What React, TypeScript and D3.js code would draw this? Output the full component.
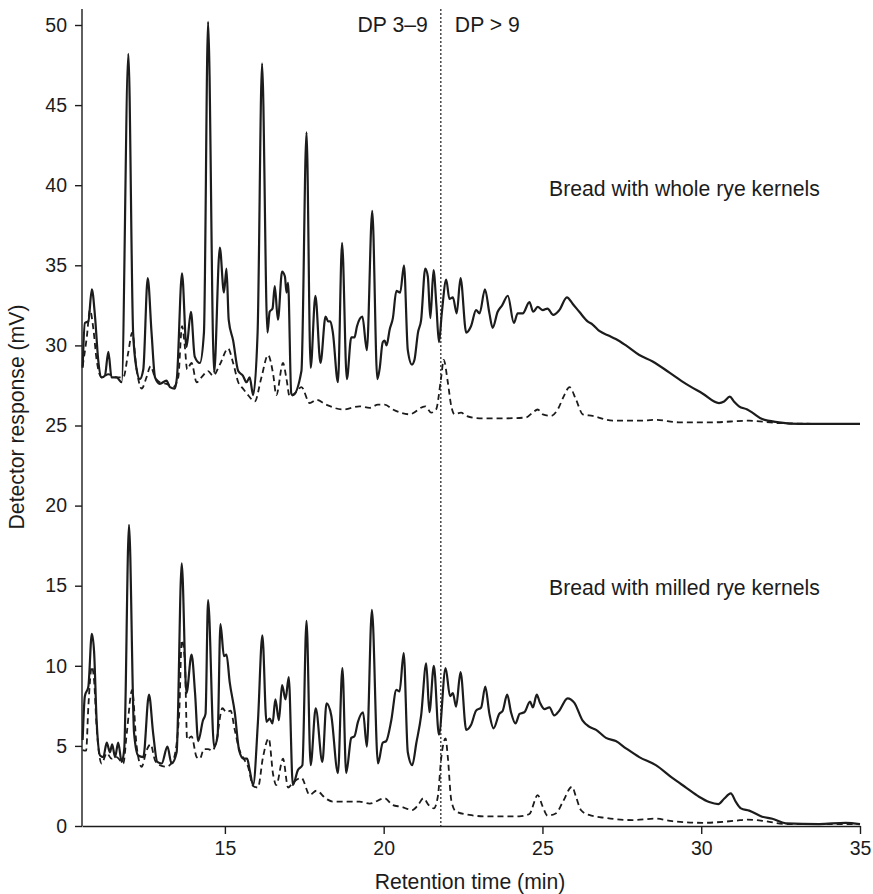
import React, { useRef, useEffect } from 'react';
import * as d3 from 'd3';

// retention time (min), detector response (mV)
const wholeSolid: [number, number][] = [
  [10.52, 28.6], [10.59, 31.4], [10.70, 31.5], [10.81, 33.5], [10.91, 31.8], [11.01, 29.1], [11.12, 28.0],
  [11.22, 28.1], [11.33, 29.6], [11.43, 28.0], [11.59, 28.0], [11.75, 27.7], [11.96, 48.2], [12.11, 30.8],
  [12.22, 28.5], [12.32, 27.9], [12.43, 28.5], [12.57, 34.2], [12.69, 30.8], [12.80, 28.0], [12.95, 27.6],
  [13.16, 27.8], [13.27, 27.4], [13.42, 27.3], [13.49, 28.0], [13.65, 34.5], [13.79, 29.9], [13.93, 32.1],
  [14.05, 29.3], [14.21, 28.9], [14.34, 30.8], [14.47, 50.2], [14.66, 28.3], [14.84, 36.1], [14.97, 33.3],
  [15.05, 34.8], [15.12, 31.6], [15.26, 30.3], [15.42, 28.4], [15.57, 28.1], [15.68, 27.7], [15.78, 28.0],
  [15.89, 26.9], [16.03, 30.8], [16.17, 47.6], [16.34, 30.8], [16.41, 32.1], [16.50, 32.3], [16.57, 33.7],
  [16.67, 31.6], [16.80, 34.6], [16.89, 34.3], [16.94, 33.3], [16.99, 33.9], [17.09, 27.0], [17.14, 26.9],
  [17.41, 28.4], [17.57, 43.3], [17.70, 28.6], [17.85, 33.1], [18.01, 28.9], [18.17, 31.8], [18.25, 31.5],
  [18.32, 31.5], [18.40, 30.8], [18.56, 27.7], [18.69, 36.4], [18.84, 27.9], [18.98, 30.5], [19.08, 30.5],
  [19.16, 31.2], [19.33, 31.8], [19.47, 29.7], [19.64, 38.4], [19.80, 27.9], [19.87, 28.5], [19.97, 30.2],
  [20.03, 30.3], [20.09, 30.0], [20.19, 31.0], [20.29, 31.7], [20.40, 33.4], [20.52, 33.3], [20.64, 35.0],
  [20.76, 29.7], [20.89, 28.8], [20.97, 29.1], [21.08, 30.8], [21.18, 31.6], [21.31, 34.8], [21.39, 34.3],
  [21.47, 31.7], [21.57, 34.7], [21.66, 32.5], [21.74, 30.2], [21.83, 32.0], [21.97, 34.1], [22.07, 32.9],
  [22.18, 33.0], [22.30, 32.0], [22.42, 34.2], [22.60, 30.8], [22.75, 31.2], [22.91, 32.2], [23.02, 32.0],
  [23.19, 33.5], [23.33, 32.0], [23.43, 31.1], [23.59, 32.1], [23.73, 32.5], [23.91, 33.1], [24.10, 31.4],
  [24.22, 32.0], [24.38, 32.0], [24.59, 32.7], [24.71, 32.1], [24.85, 32.4], [25.01, 32.2], [25.16, 32.3],
  [25.34, 31.9], [25.53, 32.2], [25.77, 33.0], [25.95, 32.6], [26.16, 32.1], [26.42, 31.5], [26.58, 31.3],
  [26.79, 30.9], [27.10, 30.6], [27.31, 30.4], [27.63, 30.0], [28.05, 29.4], [28.47, 29.0], [29.0, 28.3],
  [29.52, 27.6], [30.04, 27.0], [30.56, 26.4], [30.72, 26.5], [30.90, 26.8], [31.03, 26.5], [31.19, 26.2],
  [31.45, 26.0], [31.61, 25.8], [31.92, 25.4], [32.45, 25.2], [33.08, 25.1], [34.02, 25.1], [35.0, 25.1],
];

const wholeDashed: [number, number][] = [
  [10.52, 28.7], [10.65, 30.5], [10.75, 32.2], [10.86, 31.0], [10.96, 29.1], [11.12, 28.0], [11.33, 28.2],
  [11.59, 28.0], [11.80, 28.0], [11.96, 29.6], [12.08, 30.8], [12.22, 28.5], [12.38, 27.3], [12.53, 28.0],
  [12.66, 28.7], [12.80, 28.0], [12.95, 27.7], [13.16, 27.6], [13.37, 27.4], [13.53, 28.0], [13.65, 31.2],
  [13.74, 29.9], [13.81, 28.5], [13.95, 28.9], [14.11, 27.7], [14.26, 28.0], [14.47, 28.4], [14.63, 28.1],
  [14.84, 28.8], [15.10, 29.8], [15.26, 28.9], [15.42, 27.7], [15.57, 27.3], [15.73, 26.9], [15.94, 26.5],
  [16.15, 28.0], [16.36, 29.4], [16.52, 28.2], [16.62, 26.9], [16.83, 28.9], [16.94, 27.9], [17.04, 26.8],
  [17.25, 27.1], [17.41, 27.4], [17.67, 26.4], [17.88, 26.6], [18.19, 26.3], [18.72, 26.0], [19.24, 26.2],
  [19.56, 26.1], [19.82, 26.3], [20.03, 26.3], [20.29, 26.0], [20.81, 25.7], [21.31, 26.2], [21.50, 25.8],
  [21.65, 26.0], [21.81, 28.0], [21.89, 29.1], [22.02, 27.7], [22.13, 26.2], [22.23, 25.7], [22.44, 25.8],
  [22.60, 25.6], [23.02, 25.45], [23.86, 25.45], [24.48, 25.5], [24.69, 25.8], [24.85, 26.0], [25.01, 25.7],
  [25.27, 25.6], [25.48, 26.0], [25.69, 26.9], [25.85, 27.4], [26.06, 26.6], [26.27, 25.7], [26.58, 25.6],
  [27.21, 25.3], [28.05, 25.3], [28.57, 25.35], [29.30, 25.2], [30.35, 25.2], [31.51, 25.3], [32.45, 25.15],
  [34.02, 25.1], [35.0, 25.1],
];

const milledSolid: [number, number][] = [
  [10.52, 5.37], [10.59, 8.1], [10.70, 8.7], [10.81, 12.0], [10.88, 10.9], [10.96, 6.6], [11.07, 4.4],
  [11.17, 4.3], [11.28, 5.2], [11.38, 4.6], [11.45, 5.1], [11.54, 4.3], [11.64, 5.2], [11.75, 4.0],
  [11.83, 4.8], [11.98, 18.8], [12.14, 5.8], [12.27, 4.4], [12.43, 4.3], [12.61, 8.2], [12.74, 5.8],
  [12.87, 4.0], [13.01, 3.9], [13.19, 4.95], [13.32, 3.9], [13.48, 4.6], [13.64, 16.4], [13.79, 8.3],
  [13.95, 10.7], [14.06, 8.3], [14.16, 5.3], [14.31, 6.6], [14.39, 7.0], [14.47, 14.1], [14.66, 4.95],
  [14.77, 5.6], [14.86, 12.6], [14.97, 10.6], [15.05, 10.7], [15.15, 9.0], [15.31, 7.1], [15.45, 4.7],
  [15.59, 4.2], [15.70, 4.2], [15.78, 3.5], [15.89, 2.56], [16.04, 6.5], [16.18, 11.9], [16.31, 6.5],
  [16.41, 6.7], [16.50, 6.4], [16.59, 7.9], [16.70, 6.6], [16.80, 8.8], [16.91, 7.9], [17.01, 9.3],
  [17.14, 2.56], [17.30, 3.5], [17.44, 3.8], [17.57, 12.8], [17.70, 3.8], [17.86, 7.35], [18.07, 4.0],
  [18.20, 7.65], [18.35, 6.9], [18.56, 3.3], [18.70, 9.85], [18.82, 3.3], [18.98, 5.5], [19.08, 5.6],
  [19.19, 6.5], [19.35, 7.1], [19.47, 4.95], [19.63, 13.5], [19.82, 3.9], [19.97, 5.2], [20.08, 5.3],
  [20.24, 6.6], [20.40, 8.5], [20.50, 8.4], [20.63, 10.8], [20.76, 4.6], [20.90, 3.8], [21.03, 5.2],
  [21.18, 6.9], [21.34, 10.15], [21.44, 7.1], [21.58, 10.0], [21.74, 5.7], [21.95, 9.85], [22.09, 8.1],
  [22.18, 8.3], [22.28, 7.45], [22.42, 9.6], [22.60, 6.0], [22.75, 6.3], [22.91, 7.2], [23.07, 7.4],
  [23.20, 8.7], [23.33, 7.0], [23.46, 6.1], [23.64, 7.0], [23.75, 7.2], [23.89, 8.2], [24.01, 7.1],
  [24.15, 6.4], [24.28, 7.0], [24.43, 7.1], [24.61, 7.76], [24.70, 7.4], [24.82, 8.2], [24.92, 7.7],
  [25.06, 7.3], [25.22, 7.4], [25.37, 6.9], [25.53, 7.2], [25.79, 7.97], [26.0, 7.7], [26.26, 6.6],
  [26.47, 6.2], [26.69, 6.0], [27.0, 5.5], [27.31, 5.3], [27.63, 4.85], [28.05, 4.3], [28.57, 3.8],
  [29.09, 3.0], [29.52, 2.4], [29.93, 1.83], [30.25, 1.5], [30.54, 1.37], [30.72, 1.7], [30.93, 2.04],
  [31.09, 1.5], [31.25, 1.1], [31.51, 0.96], [31.92, 0.58], [32.24, 0.45], [32.66, 0.17], [33.71, 0.12],
  [34.55, 0.2], [35.0, 0.12],
];

const milledDashed: [number, number][] = [
  [10.52, 4.74], [10.63, 4.7], [10.70, 7.45], [10.81, 9.95], [10.88, 9.1], [10.96, 6.2], [11.12, 3.9],
  [11.28, 4.55], [11.43, 4.2], [11.59, 4.3], [11.80, 3.9], [11.91, 5.8], [12.08, 8.5], [12.22, 5.0],
  [12.38, 3.7], [12.53, 4.7], [12.66, 5.1], [12.80, 4.1], [12.95, 3.8], [13.16, 3.7], [13.37, 4.1],
  [13.56, 7.0], [13.64, 11.6], [13.74, 10.3], [13.81, 5.4], [13.95, 5.6], [14.11, 4.3], [14.21, 4.2],
  [14.34, 4.8], [14.47, 4.8], [14.61, 4.7], [14.73, 5.3], [14.92, 7.35], [15.05, 7.1], [15.18, 7.2],
  [15.31, 6.0], [15.45, 4.8], [15.59, 4.2], [15.73, 3.7], [15.89, 2.5], [16.04, 2.4], [16.20, 4.3],
  [16.38, 5.47], [16.52, 3.2], [16.62, 2.56], [16.83, 4.2], [16.99, 2.4], [17.14, 2.7], [17.41, 3.0],
  [17.67, 1.94], [17.88, 2.2], [18.19, 1.7], [18.40, 1.52], [18.82, 1.52], [19.24, 1.52], [19.56, 1.4],
  [20.03, 1.73], [20.29, 1.3], [20.55, 1.2], [20.90, 1.0], [21.08, 1.3], [21.25, 1.73], [21.42, 1.3],
  [21.58, 1.1], [21.71, 1.9], [21.81, 4.2], [21.95, 5.47], [22.02, 4.3], [22.13, 1.6], [22.28, 0.9],
  [22.70, 0.69], [23.23, 0.6], [24.27, 0.6], [24.59, 0.75], [24.85, 1.93], [25.01, 1.2], [25.16, 0.65],
  [25.43, 0.8], [25.64, 1.5], [25.93, 2.45], [26.06, 1.8], [26.21, 1.0], [26.47, 0.69], [27.0, 0.5],
  [27.84, 0.37], [28.55, 0.46], [29.09, 0.3], [30.04, 0.2], [31.09, 0.33], [31.45, 0.4], [32.03, 0.3],
  [32.66, 0.12], [35.0, 0.12],
];

const xTicks = [15, 20, 25, 30, 35];
const yTicks = [0, 5, 10, 15, 20, 25, 30, 35, 40, 45, 50];
const dpBoundary = 21.8;

const FONT = '"Liberation Sans", Arial, Helvetica, sans-serif';
const INK = '#1c1c1c';

const Chromatogram = () => {
  const svgRef = useRef<SVGSVGElement>(null);

  useEffect(() => {
    const svg = d3.select(svgRef.current);
    svg.selectAll('*').remove();

    const x = d3.scaleLinear().domain([10.5, 35]).range([82, 860]);
    const y = d3.scaleLinear().domain([0, 50]).range([826, 25]);

    const line = d3.line<[number, number]>()
      .x(d => x(d[0]))
      .y(d => y(d[1]))
      .curve(d3.curveMonotoneX);

    // Axes
    const yAxis = svg.append('g')
      .attr('transform', `translate(${x(10.5)},0)`)
      .call(d3.axisLeft(y).tickValues(yTicks).tickSize(7).tickPadding(8).tickSizeOuter(0));
    yAxis.select('.domain').attr('d', `M0,${y(0)}V${y(51)}`);

    const xAxis = svg.append('g')
      .attr('transform', `translate(0,${y(0)})`)
      .call(d3.axisBottom(x).tickValues(xTicks).tickSize(8).tickPadding(7).tickSizeOuter(0));

    [xAxis, yAxis].forEach(g => {
      g.select('.domain').attr('stroke', INK).attr('stroke-width', 1.4);
      g.selectAll('.tick line').attr('stroke', INK).attr('stroke-width', 1.4);
      g.selectAll('.tick text')
        .attr('fill', INK)
        .style('font-family', FONT)
        .style('font-size', '19.5px');
    });

    // DP boundary
    svg.append('line')
      .attr('x1', x(dpBoundary)).attr('x2', x(dpBoundary))
      .attr('y1', y(51)).attr('y2', y(0))
      .attr('stroke', INK)
      .attr('stroke-width', 1.2)
      .attr('stroke-dasharray', '2,2');

    // Traces
    const series: { data: [number, number][]; dash: string | null }[] = [
      { data: wholeDashed, dash: '6,4' },
      { data: milledDashed, dash: '6,4' },
      { data: wholeSolid, dash: null },
      { data: milledSolid, dash: null },
    ];
    series.forEach(s => {
      svg.append('path')
        .attr('d', line(s.data))
        .attr('fill', 'none')
        .attr('stroke', INK)
        .attr('stroke-width', s.dash ? 1.8 : 2.2)
        .attr('stroke-linejoin', 'round')
        .attr('stroke-dasharray', s.dash);
    });

    const label = (txt: string, px: number, py: number, anchor: string) =>
      svg.append('text')
        .attr('x', px).attr('y', py)
        .attr('text-anchor', anchor)
        .attr('fill', INK)
        .style('font-family', FONT)
        .style('font-size', '21.2px')
        .text(txt);

    label('DP 3–9', x(dpBoundary) - 13, 32, 'end');
    label('DP > 9', x(dpBoundary) + 14, 32, 'start');
    label('Bread with whole rye kernels', 549, 196, 'start');
    label('Bread with milled rye kernels', 549, 595, 'start');
    label('Retention time (min)', 470, 889, 'middle');

    svg.append('text')
      .attr('transform', 'translate(24,417) rotate(-90)')
      .attr('text-anchor', 'middle')
      .attr('fill', INK)
      .style('font-family', FONT)
      .style('font-size', '21.2px')
      .text('Detector response (mV)');
  }, []);

  return (
    <svg ref={svgRef} width="873" height="894"
      style={{ position: 'absolute', left: 0, top: 0, background: '#fff' }}></svg>
  );
};

export default function App() {
  return <Chromatogram />;
}
